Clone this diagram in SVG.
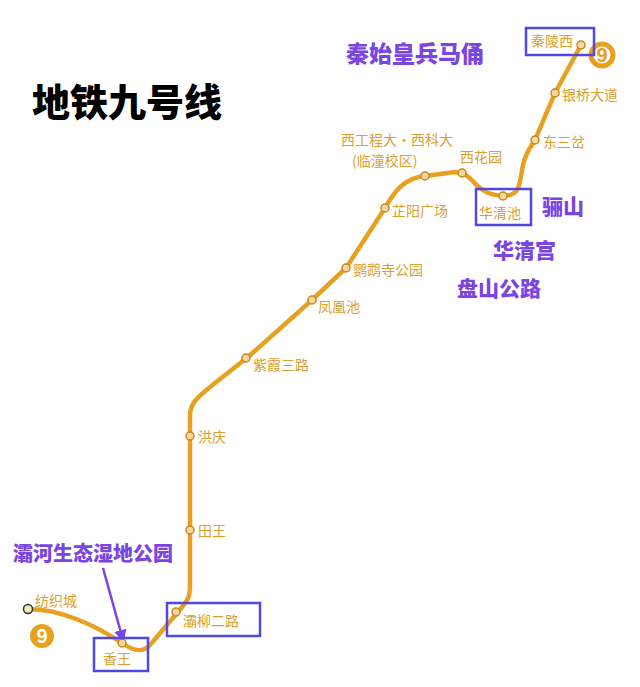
<svg xmlns="http://www.w3.org/2000/svg" width="640" height="687" viewBox="0 0 640 687">
<defs>
<style>
.st{fill:#f7d9a0;stroke:#c9861a;stroke-width:1.5}
.lb{font-family:"Noto Sans CJK SC",sans-serif;font-size:14px;fill:#d9a030}
.pu{font-family:"Noto Sans CJK SC",sans-serif;font-weight:900;fill:#7a45e0}
.bx{fill:none;stroke:#5048e0;stroke-width:2.5}
</style>
<marker id="ah" viewBox="0 0 10 10" refX="8" refY="5" markerWidth="5" markerHeight="5" orient="auto"><path d="M0,0L10,5L0,10z" fill="#7a45e0"/></marker>
</defs>
<rect width="640" height="687" fill="#fff"/>
<text x="32" y="116" font-family="Noto Sans CJK SC,sans-serif" font-weight="900" font-size="38" fill="#000">地铁九号线</text>
<g id="connectors">
<path d="M28,609 C60,609 95,625 122,643 C132,650 142,654 150,645 L178,612 C188,600 190,598 190,585 L190,415 C190,400 200,395 248,357 L312,300 L346,268 L385,208 C395,190 405,178 425,176 L455,172 C468,172 472,182 480,188 C490,196 500,196 510,195 C520,193 520,180 523,165 C526,152 530,148 535,140 L555,93 L581,45" fill="none" stroke="#e8a020" stroke-width="4.5" stroke-linecap="round"/>
<line x1="103" y1="568" x2="123" y2="640" stroke="#7a45e0" stroke-width="2.5" marker-end="url(#ah)"/>
</g>
<g id="stations">
<circle class="st" cx="28" cy="609" r="4.5" style="fill:#f3e6c0;stroke:#333"/>
<circle class="st" cx="122" cy="643" r="4"/>
<circle class="st" cx="176" cy="612" r="4"/>
<circle class="st" cx="190" cy="530" r="4"/>
<circle class="st" cx="190" cy="436" r="4"/>
<circle class="st" cx="246" cy="358" r="4"/>
<circle class="st" cx="312" cy="300" r="4"/>
<circle class="st" cx="346" cy="268" r="4"/>
<circle class="st" cx="385" cy="208" r="4"/>
<circle class="st" cx="425" cy="176" r="4"/>
<circle class="st" cx="462" cy="173" r="4"/>
<circle class="st" cx="503" cy="196" r="4"/>
<circle class="st" cx="535" cy="140" r="4"/>
<circle class="st" cx="555" cy="93" r="4"/>
<circle class="st" cx="581" cy="45" r="4"/>
</g>
<g id="labels">
<text class="lb" x="35" y="606">纺织城</text>
<text class="lb" x="103" y="664">香王</text>
<text class="lb" x="183" y="626">灞柳二路</text>
<text class="lb" x="198" y="536">田王</text>
<text class="lb" x="198" y="442">洪庆</text>
<text class="lb" x="253" y="370">紫霞三路</text>
<text class="lb" x="318" y="312">凤凰池</text>
<text class="lb" x="353" y="275">鹦鹉寺公园</text>
<text class="lb" x="392" y="216">芷阳广场</text>
<text class="lb" x="341" y="145">西工程大·西科大</text>
<text class="lb" x="352" y="166">(临潼校区)</text>
<text class="lb" x="460" y="162">西花园</text>
<text class="lb" x="479" y="218">华清池</text>
<text class="lb" x="543" y="147">东三岔</text>
<text class="lb" x="562" y="100">银桥大道</text>
<text class="lb" x="531" y="46">秦陵西</text>
</g>
<g id="badges">
<circle cx="602" cy="55" r="11" fill="none" stroke="#e8a020" stroke-width="5"/>
<text x="602" y="62" text-anchor="middle" font-family="Liberation Sans,sans-serif" font-weight="bold" font-size="20" fill="#e8a020">9</text>
<circle cx="42" cy="636" r="12" fill="#e8a020"/>
<text x="42" y="643" text-anchor="middle" font-family="Liberation Sans,sans-serif" font-weight="bold" font-size="20" fill="#fff">9</text>
</g>
<g id="boxes">
<rect class="bx" x="526" y="28" width="68" height="27"/>
<rect class="bx" x="476" y="189" width="55" height="36"/>
<rect class="bx" x="167" y="603" width="93" height="33"/>
<rect class="bx" x="94" y="638" width="54" height="33"/>
</g>
<g id="annotations">
<text class="pu" x="346" y="62" font-size="23">秦始皇兵马俑</text>
<text class="pu" x="542" y="214" font-size="21">骊山</text>
<text class="pu" x="493" y="258" font-size="21">华清宫</text>
<text class="pu" x="457" y="296" font-size="21">盘山公路</text>
<text class="pu" x="13" y="561" font-size="20">灞河生态湿地公园</text>
</g>
</svg>
